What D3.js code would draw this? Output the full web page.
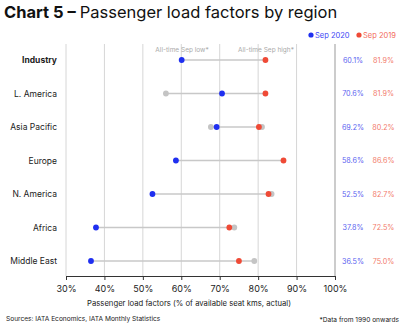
<!DOCTYPE html>
<html><head><meta charset="utf-8">
<script src="https://cdn.jsdelivr.net/npm/d3@7"></script>
<style>body{margin:0;background:#fff}svg{display:block}</style>
</head><body><svg id="c" width="405" height="327"></svg>
<script>
const regions = ["Industry","L. America","Asia Pacific","Europe","N. America","Africa","Middle East"];
const sep2020 = [60.1,70.6,69.2,58.6,52.5,37.8,36.5];
const sep2019 = [81.9,81.9,80.2,86.6,82.7,72.5,75.0];
const allTimeLow = [null,56.0,67.7,null,null,null,null];
const allTimeHigh = [null,null,81.0,null,83.5,73.8,79.0];
const xTicks = [30,40,50,60,70,80,90,100];

(function(){
const svg = d3.select("#c");
const font = "Inter, 'Noto Sans', sans-serif";
const blue = "#1f2ff0", red = "#ef4a36", grey = "#c4c4c4";
const x = d3.scaleLinear().domain([30,100]).range([66,335]);
const y = d3.scalePoint().domain(regions).range([60,261]);
const plotTop = 44, plotBottom = 276;

// title
const t = svg.append("text").attr("x",4).attr("y",18).attr("font-family",font).attr("font-size",16.5).attr("fill","#111");
t.append("tspan").attr("font-weight",700).text("Chart 5 – ");
t.append("tspan").attr("font-weight",400).text("Passenger load factors by region");

// legend
const lg = svg.append("g").attr("font-family",font).attr("font-size",7.5);
lg.append("circle").attr("cx",311).attr("cy",35).attr("r",2.6).attr("fill",blue);
lg.append("text").attr("x",315).attr("y",37.7).attr("fill","#3b45f5").text("Sep 2020");
lg.append("circle").attr("cx",359).attr("cy",35).attr("r",2.6).attr("fill",red);
lg.append("text").attr("x",363).attr("y",37.7).attr("fill","#f26a5a").text("Sep 2019");

// gridlines
svg.append("g").selectAll("line").data(xTicks).join("line")
  .attr("x1",d=>x(d)).attr("x2",d=>x(d)).attr("y1",plotTop).attr("y2",plotBottom)
  .attr("stroke",d=>d===100?"#999":"#d6d6d6").attr("stroke-width",1);

// axis
const ax = svg.append("g").attr("transform",`translate(0,${plotBottom})`)
  .call(d3.axisBottom(x).tickValues(xTicks).tickFormat(d=>d+"%").tickSize(4).tickSizeOuter(0));
ax.select(".domain").attr("stroke","#333");
ax.selectAll(".tick line").attr("stroke","#333");
ax.selectAll("text").attr("font-family",font).attr("font-size",9).attr("fill","#222").attr("dy","0.95em");

svg.append("text").attr("x",189).attr("y",306).attr("text-anchor","middle").attr("font-family",font)
  .attr("font-size",7.7).attr("fill","#222").text("Passenger load factors (% of available seat kms, actual)");

// annotation labels
svg.append("text").attr("x",182).attr("y",52).attr("text-anchor","middle").attr("font-family",font)
  .attr("font-size",6.5).attr("fill","#aaa").text("All-time Sep low*");
svg.append("text").attr("x",266).attr("y",52).attr("text-anchor","middle").attr("font-family",font)
  .attr("font-size",6.5).attr("fill","#aaa").text("All-time Sep high*");

// category labels
svg.append("g").selectAll("text").data(regions).join("text")
  .attr("x",57).attr("y",d=>y(d)+3).attr("text-anchor","end").attr("font-family",font)
  .attr("font-size",8.5).attr("font-weight",(d,i)=>i===0?700:400).attr("fill","#222").text(d=>d);

// rows
const rows = regions.map((r,i)=>{
  const vals=[sep2020[i],sep2019[i],allTimeLow[i],allTimeHigh[i]].filter(v=>v!=null);
  return {r,i,min:d3.min(vals),max:d3.max(vals)};
});
svg.append("g").selectAll("line").data(rows).join("line")
  .attr("x1",d=>x(d.min)).attr("x2",d=>x(d.max)).attr("y1",d=>y(d.r)).attr("y2",d=>y(d.r))
  .attr("stroke","#c8c8c8").attr("stroke-width",1.3);

const dots = svg.append("g");
dots.append("g").selectAll("circle").data(regions.filter((r,i)=>allTimeLow[i]!=null)).join("circle")
  .attr("cx",r=>x(allTimeLow[regions.indexOf(r)])).attr("cy",r=>y(r)).attr("r",2.9).attr("fill",grey);
dots.append("g").selectAll("circle").data(regions.filter((r,i)=>allTimeHigh[i]!=null)).join("circle")
  .attr("cx",r=>x(allTimeHigh[regions.indexOf(r)])).attr("cy",r=>y(r)).attr("r",2.9).attr("fill",grey);
dots.append("g").selectAll("circle").data(regions).join("circle")
  .attr("cx",(r,i)=>x(sep2020[i])).attr("cy",r=>y(r)).attr("r",2.9).attr("fill",blue);
dots.append("g").selectAll("circle").data(regions).join("circle")
  .attr("cx",(r,i)=>x(sep2019[i])).attr("cy",r=>y(r)).attr("r",2.9).attr("fill",red);

// value labels
svg.append("g").selectAll("text").data(regions).join("text")
  .attr("x",353).attr("y",r=>y(r)+2.5).attr("text-anchor","middle").attr("font-family",font)
  .attr("font-size",7.2).attr("fill","#5a5ff0").text((r,i)=>sep2020[i].toFixed(1)+"%");
svg.append("g").selectAll("text").data(regions).join("text")
  .attr("x",383.5).attr("y",r=>y(r)+2.5).attr("text-anchor","middle").attr("font-family",font)
  .attr("font-size",7.2).attr("fill","#f27a6a").text((r,i)=>sep2019[i].toFixed(1)+"%");

// footer
svg.append("text").attr("x",6).attr("y",320.5).attr("font-family",font).attr("font-size",6.6).attr("fill","#222")
  .text("Sources: IATA Economics, IATA Monthly Statistics");
svg.append("text").attr("x",399).attr("y",321.5).attr("text-anchor","end").attr("font-family",font).attr("font-size",6.6).attr("fill","#222")
  .text("*Data from 1990 onwards");
})();
</script></body></html>
